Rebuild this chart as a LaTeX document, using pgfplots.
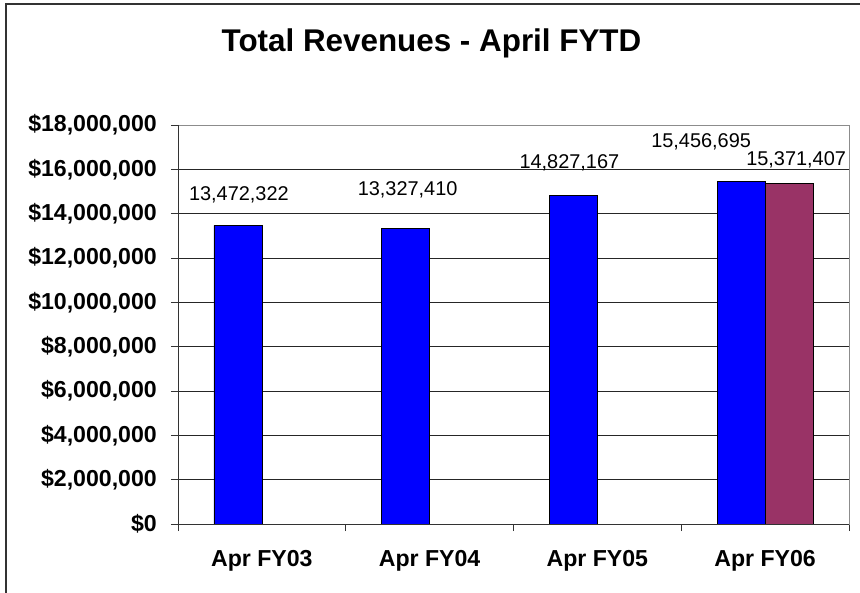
\documentclass[border=0pt]{standalone}
\usepackage{pgfplots}
\pgfplotsset{compat=1.18}
\usepackage{fontspec}
\setmainfont{Liberation Sans}
\definecolor{barblue}{HTML}{0000FF}
\definecolor{barplum}{HTML}{993366}
\begin{document}
\begin{tikzpicture}
\useasboundingbox (0,0) rectangle (860bp,593bp);
\draw[line width=2bp, black!80] (6bp,0) -- (6bp,589bp) -- (860bp,589bp);
\node[anchor=base, inner sep=0, font=\fontsize{31.5}{36}\selectfont\bfseries] at (431.5bp,541bp) {Total Revenues - April FYTD};
\begin{axis}[
  at={(178bp,69bp)}, anchor=south west,
  scale only axis, width=671bp, height=399bp,
  xmin=-0.5, xmax=3.5, ymin=0, ymax=18000000,
  clip=false,
  axis line style={black!45, line width=0.8bp},
  xtick={-0.5,0.5,1.5,2.5,3.5},
  xticklabels={Apr FY03,Apr FY04,Apr FY05,Apr FY06},
  x tick label as interval,
  ytick={0,2000000,4000000,6000000,8000000,10000000,12000000,14000000,16000000,18000000},
  scaled y ticks=false,
  ymajorgrids, xmajorgrids=false,
  grid style={black!85, line width=0.8bp},
  tick align=outside, major tick length=7bp,
  tick style={black!80, line width=0.8bp},
  xtick pos=left, ytick pos=left,
  yticklabel={\$\pgfmathprintnumber{\tick}},
  yticklabel style={/pgf/number format/.cd, fixed, precision=0, 1000 sep={,}, assume math mode=true, /tikz/.cd,
    font=\fontsize{23.2}{27}\selectfont\bfseries, inner sep=0, anchor=east, xshift=-14bp},
  xticklabel style={font=\fontsize{23.2}{27}\selectfont\bfseries, inner sep=0, anchor=north, yshift=-19bp},
]
\addplot[ybar, bar width=0.286, bar shift=-0.143, fill=barblue, draw=black, line width=0.6bp,
  point meta=explicit symbolic, nodes near coords,
  visualization depends on={value \thisrow{dx} \as \dx},
  visualization depends on={value \thisrow{dy} \as \dy},
  every node near coord/.style={anchor=base, inner sep=0, font=\fontsize{20}{24}\selectfont, xshift=\dx bp, yshift=\dy bp, black}]
  table[x=x, y=y, meta=lab] {
x y lab dx dy
0 13472322 13,472,322 -23 25
1 13327410 13,327,410 -22 33.5
2 14827167 14,827,167 -28 27
3 15456695 15,456,695 -64 34
};
\addplot[ybar, bar width=0.286, bar shift=0.143, fill=barplum, draw=black, line width=0.6bp,
  point meta=explicit symbolic, nodes near coords,
  visualization depends on={value \thisrow{dx} \as \dx},
  visualization depends on={value \thisrow{dy} \as \dy},
  every node near coord/.style={anchor=base, inner sep=0, font=\fontsize{20}{24}\selectfont, xshift=\dx bp, yshift=\dy bp, black}]
  table[x=x, y=y, meta=lab] {
x y lab dx dy
3 15371407 15,371,407 31 18
};
\draw[black!80, line width=0.8bp] (rel axis cs:0,1) -- (rel axis cs:0,0) -- (rel axis cs:1,0);
\end{axis}
\end{tikzpicture}
\end{document}
